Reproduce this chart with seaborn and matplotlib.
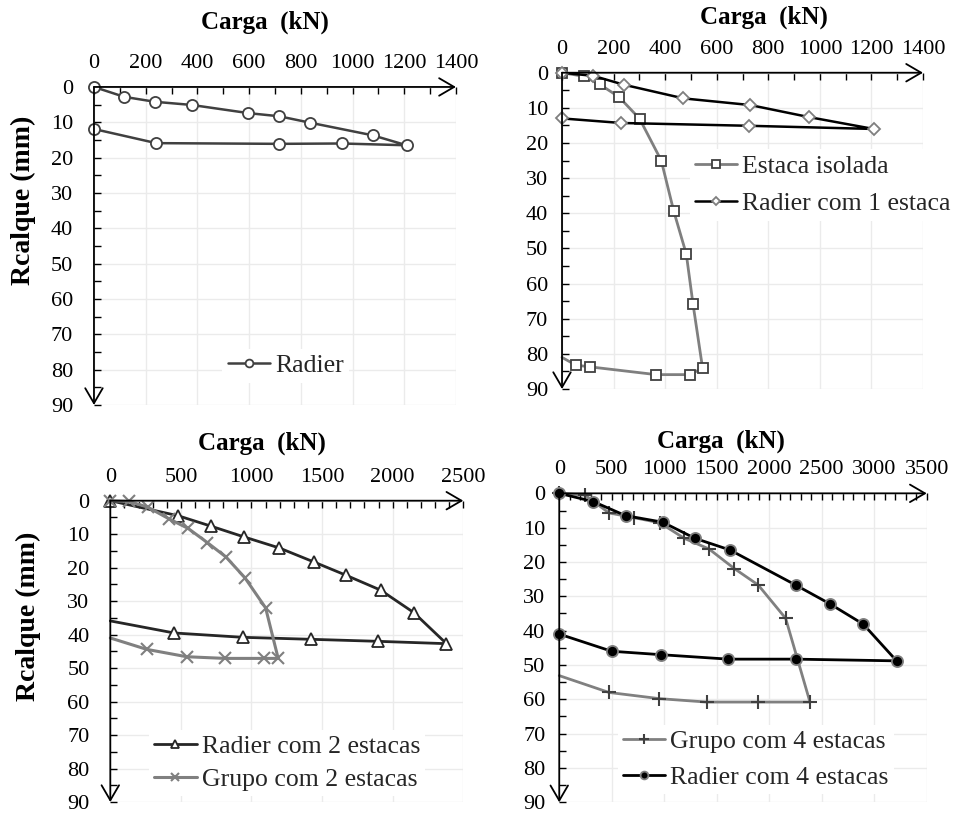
import matplotlib
matplotlib.use('Agg')
import matplotlib.pyplot as plt
from matplotlib.ticker import MultipleLocator
import seaborn as sns

# carga (kN) x recalque (mm)
radier_x = [0, 117, 236, 379, 597, 717, 835, 1079, 1209, 958, 717, 241, 0]
radier_y = [0, 2.8, 4.2, 5.1, 7.4, 8.3, 10.1, 13.7, 16.5, 16.0, 16.1, 15.9, 11.9]

estaca_x = [0, 84, 146, 221, 301, 385, 433, 482, 508, 545, 497, 365, 110, 54, 0]
estaca_y = [0, 1.0, 3.3, 6.9, 13.1, 25.0, 39.3, 51.6, 65.8, 84.0, 85.9, 85.9, 83.7, 83.2, 81.0]

r1_x = [0, 122, 239, 471, 730, 956, 1208, 726, 229, 0]
r1_y = [0, 0.9, 3.4, 7.3, 9.2, 12.6, 16.0, 15.1, 14.3, 13.0]

r2_x = [0, 481, 713, 946, 1196, 1442, 1666, 1914, 2149, 2381, 1897, 1425, 937, 451, 0]
r2_y = [0, 4.5, 7.6, 10.8, 14.1, 18.3, 22.2, 26.7, 33.4, 42.7, 42.0, 41.4, 40.8, 39.5, 35.9]

g2_x = [0, 132, 264, 415, 552, 687, 819, 953, 1100, 1189, 1088, 812, 541, 258, 0]
g2_y = [0, 0.2, 1.9, 5.4, 8.3, 12.5, 16.8, 23.0, 32.0, 47.1, 47.1, 47.1, 46.6, 44.4, 41.0]

g4_x = [0, 245, 473, 714, 960, 1190, 1426, 1667, 1895, 2156, 2388, 1895, 1404, 952, 473, 0]
g4_y = [0, 0.5, 5.7, 7.1, 8.6, 13.1, 16.2, 21.9, 26.7, 36.4, 60.8, 60.8, 60.8, 59.8, 58.0, 53.1]

r4_x = [0, 324, 632, 985, 1292, 1626, 2251, 2578, 2895, 3213, 2251, 1610, 969, 499, 0]
r4_y = [0, 2.4, 6.5, 8.4, 13.1, 16.5, 26.7, 32.2, 38.1, 48.8, 48.3, 48.3, 47.0, 46.0, 41.0]

sns.set_theme(style='white')
plt.rcParams['font.family'] = ['Liberation Serif', 'DejaVu Serif']

fig = plt.figure(figsize=(9.55, 8.18), dpi=100)
ax1 = fig.add_axes([0.0984, 0.5049, 0.379, 0.3888])
ax2 = fig.add_axes([0.5885, 0.5244, 0.378, 0.3867])
ax3 = fig.add_axes([0.1155, 0.0195, 0.3696, 0.3684])
ax4 = fig.add_axes([0.5856, 0.0192, 0.3848, 0.3777])


def estilo(ax, xmax, xstep, tit_xy, ypad, ylab_xy=None):
    ax.set_xlim(0, xmax)
    ax.set_ylim(90, 0)
    ax.xaxis.tick_top()
    ax.xaxis.set_label_position('top')
    ax.set_xticks(range(0, xmax + 1, xstep))
    ax.xaxis.set_minor_locator(MultipleLocator(100))
    ax.set_yticks(range(0, 91, 10))
    ax.yaxis.set_minor_locator(MultipleLocator(5))
    ax.tick_params(which='both', direction='in', length=5, width=1, color='black',
                   top=True, bottom=False, left=True, right=False,
                   labelsize=16, labelcolor='black')
    ax.tick_params(axis='x', pad=10)
    ax.tick_params(axis='y', pad=ypad)
    ax.grid(True, which='major', color='#ebebeb', lw=1)
    ax.set_axisbelow(True)
    for s in ax.spines.values():
        s.set_visible(False)
    seta = dict(arrowstyle='->,head_length=0.6,head_width=0.35', lw=1.3, color='black',
                shrinkA=0, shrinkB=0, mutation_scale=18)
    ax.annotate('', xy=(1, 1), xytext=(0, 1), xycoords='axes fraction',
                arrowprops=seta, annotation_clip=False)
    ax.annotate('', xy=(0, 0), xytext=(0, 1), xycoords='axes fraction',
                arrowprops=seta, annotation_clip=False)
    ax.set_xlabel('Carga  (kN)', fontsize=18, fontweight='bold', color='black')
    ax.xaxis.set_label_coords(*tit_xy)
    ax.xaxis.label.set_va('center')
    if ylab_xy:
        ax.set_ylabel('Rcalque (mm)', fontsize=20, fontweight='bold', color='black')
        ax.yaxis.set_label_coords(*ylab_xy)
        ax.yaxis.label.set_va('center')
    else:
        ax.set_ylabel('')


def legenda(ax, x0, y0, ls):
    ax.legend(loc='center left', bbox_to_anchor=(x0, y0), fontsize=18.5, frameon=True,
              facecolor='white', edgecolor='none', framealpha=1, fancybox=False,
              borderpad=0.2, borderaxespad=0, handlelength=1.65, handletextpad=0.2,
              labelspacing=ls, markerscale=0.7)


# Radier
sns.lineplot(x=radier_x, y=radier_y, ax=ax1, sort=False, estimator=None, color='#404040',
             lw=1.8, marker='o', ms=8, mfc='white', mec='#404040', mew=1.3,
             label='Radier', clip_on=False)
estilo(ax1, 1400, 200, (0.472, 1.204), 15, (-0.196, 0.645))
legenda(ax1, 0.355, 0.123, 0.5)

# Estaca isolada / Radier com 1 estaca
sns.lineplot(x=estaca_x, y=estaca_y, ax=ax2, sort=False, estimator=None, color='#7f7f7f',
             lw=2.0, marker='s', ms=7.5, mfc='white', mec='#404040', mew=1.3,
             markevery=list(range(len(estaca_x) - 1)), label='Estaca isolada', clip_on=False)
sns.lineplot(x=r1_x, y=r1_y, ax=ax2, sort=False, estimator=None, color='black',
             lw=1.8, marker='D', ms=6, mfc='white', mec='#7f7f7f', mew=1.3,
             label='Radier com 1 estaca', clip_on=False)
estilo(ax2, 1400, 200, (0.56, 1.176), 10)
legenda(ax2, 0.354, 0.645, 0.58)

# Radier com 2 estacas / Grupo com 2 estacas
sns.lineplot(x=r2_x, y=r2_y, ax=ax3, sort=False, estimator=None, color='#262626',
             lw=2.0, marker='^', ms=8, mfc='white', mec='#262626', mew=1.3,
             markevery=list(range(len(r2_x) - 1)), label='Radier com 2 estacas', clip_on=False)
sns.lineplot(x=g2_x, y=g2_y, ax=ax3, sort=False, estimator=None, color='#808080',
             lw=2.2, marker='x', ms=8, mec='#7f7f7f', mew=1.5,
             markevery=list(range(len(g2_x) - 1)), label='Grupo com 2 estacas', clip_on=False)
estilo(ax3, 2500, 500, (0.43, 1.19), 15, (-0.233, 0.615))
legenda(ax3, 0.11, 0.13, 0.39)

# Grupo com 4 estacas / Radier com 4 estacas
sns.lineplot(x=g4_x, y=g4_y, ax=ax4, sort=False, estimator=None, color='#808080',
             lw=2.0, marker='+', ms=10, mec='#404040', mew=1.5,
             markevery=list(range(len(g4_x) - 1)), label='Grupo com 4 estacas', clip_on=False)
sns.lineplot(x=r4_x, y=r4_y, ax=ax4, sort=False, estimator=None, color='black',
             lw=2.0, marker='o', ms=8, mfc='black', mec='#7f7f7f', mew=1.3,
             label='Radier com 4 estacas', clip_on=False)
estilo(ax4, 3500, 500, (0.44, 1.168), 10)
legenda(ax4, 0.159, 0.138, 0.5)

fig.savefig('out.png', dpi=100, facecolor='white')
